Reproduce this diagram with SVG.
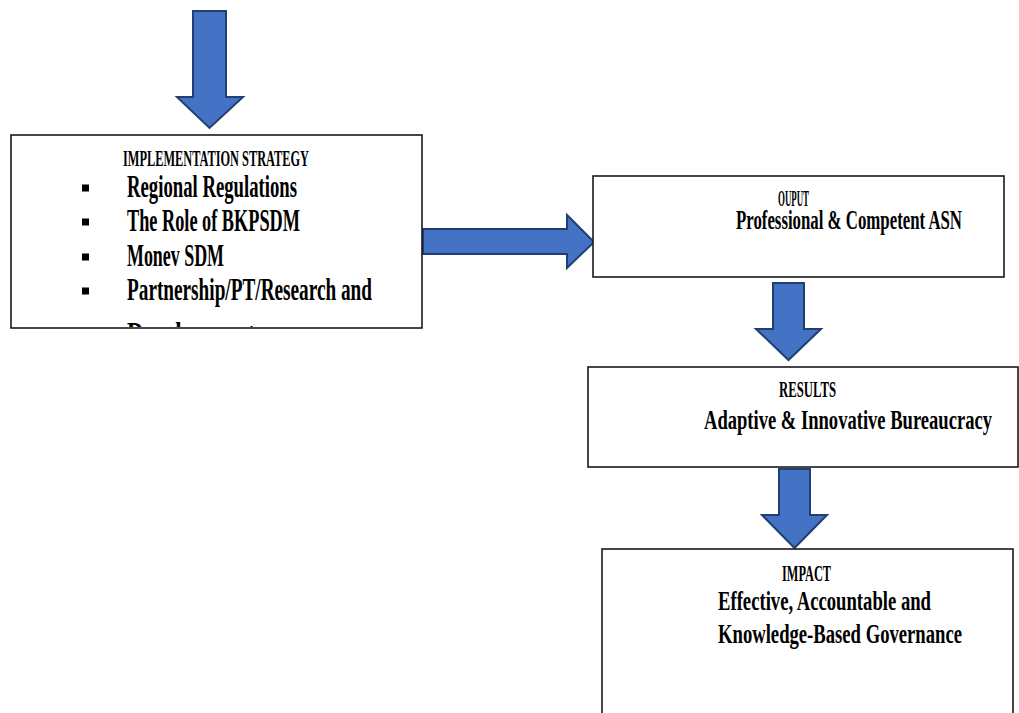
<svg xmlns="http://www.w3.org/2000/svg" width="1019" height="713" viewBox="0 0 1019 713">
<style>
.box{fill:#ffffff;stroke:#1a1a1a;stroke-width:1.6}
.arr{fill:#4472C4;stroke:#223f73;stroke-width:2;stroke-linejoin:miter}
.t{font-family:"Liberation Serif","Times New Roman",serif;font-weight:bold;fill:#000}
.hd{font-size:23px}
.it{font-size:31px}
.bd{font-size:27.5px}
</style>
<defs>
<clipPath id="c1"><rect x="12" y="136" width="409" height="191"/></clipPath>
</defs>
<rect width="1019" height="713" fill="#ffffff"/>
<g id="connectors">
<polygon class="arr" points="193,11 226,11 226,97 243,97 209.5,128 177,97 193,97"/>
<polygon class="arr" points="423,229 567,229 567,215 594,242 567,268 567,254 423,254"/>
<polygon class="arr" points="773,283 804,283 804,329 821,329 788.5,360 756,329 773,329"/>
<polygon class="arr" points="779,469 810,469 810,515 827,515 794.5,548 762,515 779,515"/>
</g>
<g id="strategy">
<rect class="box" x="11" y="135" width="411" height="193"/>
<text class="t hd" x="123" y="166" textLength="186" lengthAdjust="spacingAndGlyphs">IMPLEMENTATION STRATEGY</text>
<rect x="82" y="184.5" width="7" height="7" fill="#000"/>
<rect x="82" y="218.5" width="7" height="7" fill="#000"/>
<rect x="82" y="253.5" width="7" height="7" fill="#000"/>
<rect x="82" y="287.5" width="7" height="7" fill="#000"/>
<text class="t it" x="127" y="197" textLength="170" lengthAdjust="spacingAndGlyphs">Regional Regulations</text>
<text class="t it" x="127" y="231" textLength="173" lengthAdjust="spacingAndGlyphs">The Role of BKPSDM</text>
<text class="t it" x="127" y="266" textLength="97" lengthAdjust="spacingAndGlyphs">Monev SDM</text>
<text class="t it" x="127" y="300" textLength="245" lengthAdjust="spacingAndGlyphs">Partnership/PT/Research and</text>
<g clip-path="url(#c1)">
<text class="t it" x="127" y="344" textLength="128" lengthAdjust="spacingAndGlyphs">Development</text>
</g>
</g>
<g id="output">
<rect class="box" x="593" y="176" width="411" height="101"/>
<text class="t hd" x="778" y="206" textLength="31" lengthAdjust="spacingAndGlyphs">OUPUT</text>
<text class="t bd" x="736" y="229" textLength="226" lengthAdjust="spacingAndGlyphs">Professional &amp; Competent ASN</text>
</g>
<g id="results">
<rect class="box" x="588" y="367" width="430" height="100"/>
<text class="t hd" x="779" y="397" textLength="57" lengthAdjust="spacingAndGlyphs">RESULTS</text>
<text class="t bd" x="704" y="429" textLength="288" lengthAdjust="spacingAndGlyphs">Adaptive &amp; Innovative Bureaucracy</text>
</g>
<g id="impact">
<rect class="box" x="602" y="549" width="411" height="200"/>
<text class="t hd" x="782" y="581" textLength="49" lengthAdjust="spacingAndGlyphs">IMPACT</text>
<text class="t bd" x="718" y="610" textLength="213" lengthAdjust="spacingAndGlyphs">Effective, Accountable and</text>
<text class="t bd" x="718" y="643" textLength="244" lengthAdjust="spacingAndGlyphs">Knowledge-Based Governance</text>
</g>
</svg>
